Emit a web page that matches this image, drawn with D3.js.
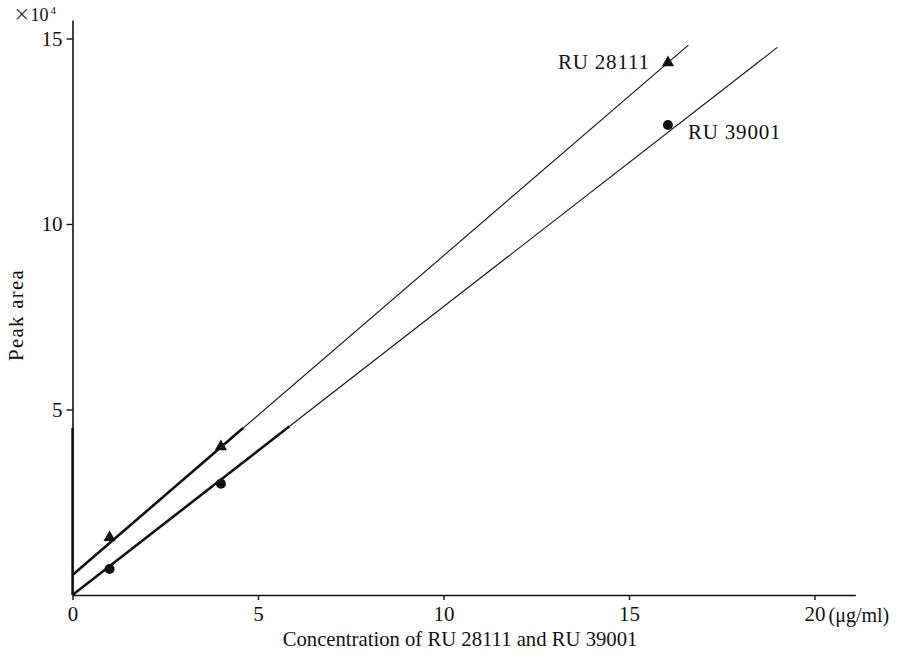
<!DOCTYPE html>
<html lang="en">
<head>
	<meta charset="UTF-8">
	<title> Peak area vs concentration </title>
	<style>
		body { margin: 0; background: #fff; }
		text { font-family: "Liberation Serif", "DejaVu Serif", serif; fill: #111; }
	</style>
</head>
<body>
	<div id='chart'></div>

	<script src="https://cdnjs.cloudflare.com/ajax/libs/d3/7.8.5/d3.min.js"></script>
	<script type="text/javascript">

	// Data (x in ug/ml, y in 10^4 peak area units)
	var xTicks = [0, 5, 10, 15, 20];
	var yTicks = [5, 10, 15];

	var ru28111X = [1, 4, 16.05];
	var ru28111Y = [1.55, 4.0, 14.35];
	var ru39001X = [1, 4, 16.05];
	var ru39001Y = [0.7, 3.0, 12.67];

	// fitted lines: thick part then thin continuation [x, y]
	var ru28111Thick = [[0, 0.54], [4.6, 4.5]];
	var ru28111Thin  = [[4.6, 4.5], [16.6, 14.82]];
	var ru39001Thick = [[0, 0], [5.85, 4.55]];
	var ru39001Thin  = [[5.85, 4.55], [19.0, 14.76]];

	var width = 904, height = 658;
	var x0 = 72.5, y0 = 595;

	var svg = d3.select('#chart')
		.append('svg')
		.attr('width', width)
		.attr('height', height);

	var x = d3.scaleLinear().domain([0, 21.1]).range([x0, x0 + 21.1 * 37.1]);
	var y = d3.scaleLinear().domain([0, 15.5]).range([y0, y0 - 15.5 * 37.1]);

	// Axes
	var xAxis = d3.axisBottom(x).tickValues(xTicks).tickSize(5).tickSizeOuter(0).tickPadding(6);
	var yAxis = d3.axisLeft(y).tickValues(yTicks).tickSize(6).tickSizeOuter(0).tickPadding(4);

	var gx = svg.append('g')
		.attr('transform', 'translate(0,' + y0 + ')')
		.call(xAxis);
	var gy = svg.append('g')
		.attr('transform', 'translate(' + x0 + ',0)')
		.call(yAxis);

	[gx, gy].forEach(function(g) {
		g.select('.domain').attr('stroke', '#111').attr('stroke-width', 1.6);
		g.selectAll('.tick line').attr('stroke', '#111').attr('stroke-width', 1.4);
		g.selectAll('.tick text')
			.attr('font-family', '"Liberation Serif", serif')
			.attr('font-size', 21)
			.attr('fill', '#111');
	});

	// thicker lower part of y axis
	svg.append('line')
		.attr('x1', x0).attr('x2', x0)
		.attr('y1', y(0)).attr('y2', y(4.5))
		.attr('stroke', '#111')
		.attr('stroke-width', 2.4);

	// unit after the 20 tick
	svg.append('text')
		.attr('x', x(20) + 14)
		.attr('y', y0 + 27)
		.attr('font-size', 20)
		.text('(\u03bcg/ml)');

	// axis titles
	svg.append('text')
		.attr('x', 460)
		.attr('y', 646)
		.attr('text-anchor', 'middle')
		.attr('font-size', 20.7)
		.text('Concentration of RU 28111 and RU 39001');

	svg.append('text')
		.attr('transform', 'translate(23,315) rotate(-90)')
		.attr('text-anchor', 'middle')
		.attr('font-size', 21)
		.attr('letter-spacing', 1.2)
		.text('Peak area');

	var mult = svg.append('text')
		.attr('x', 13)
		.attr('y', 21)
		.attr('font-size', 18);
	mult.append('tspan').attr('font-size', 21).attr('font-family', '"DejaVu Sans", sans-serif')
		.attr('font-weight', 200).text('\u00d7');
	mult.append('tspan').text('10');
	mult.append('tspan').attr('dy', -7).attr('dx', 2).attr('font-size', 11).text('4');

	// lines
	var line = d3.line()
		.x(function(d) { return x(d[0]); })
		.y(function(d) { return y(d[1]); });

	[[ru28111Thick, 2.6], [ru28111Thin, 1.1], [ru39001Thick, 2.6], [ru39001Thin, 1.1]].forEach(function(s) {
		svg.append('path')
			.datum(s[0])
			.attr('d', line)
			.attr('fill', 'none')
			.attr('stroke', '#111')
			.attr('stroke-width', s[1]);
	});

	// markers
	var tri = d3.symbol().type(d3.symbolTriangle).size(65);
	svg.selectAll('path.tri')
		.data(d3.range(ru28111X.length))
		.enter()
		.append('path')
		.attr('class', 'tri')
		.attr('d', tri)
		.attr('transform', function(i) { return 'translate(' + x(ru28111X[i]) + ',' + y(ru28111Y[i]) + ')'; })
		.attr('fill', '#111');

	svg.selectAll('circle.dot')
		.data(d3.range(ru39001X.length))
		.enter()
		.append('circle')
		.attr('class', 'dot')
		.attr('cx', function(i) { return x(ru39001X[i]); })
		.attr('cy', function(i) { return y(ru39001Y[i]); })
		.attr('r', 5)
		.attr('fill', '#111');

	// series labels
	svg.append('text')
		.attr('x', 558)
		.attr('y', 69)
		.attr('font-size', 21)
		.attr('letter-spacing', 0.8)
		.text('RU 28111');
	svg.append('text')
		.attr('x', 688)
		.attr('y', 139)
		.attr('font-size', 21)
		.attr('letter-spacing', 0.8)
		.text('RU 39001');

  </script>
</body>
</html>
